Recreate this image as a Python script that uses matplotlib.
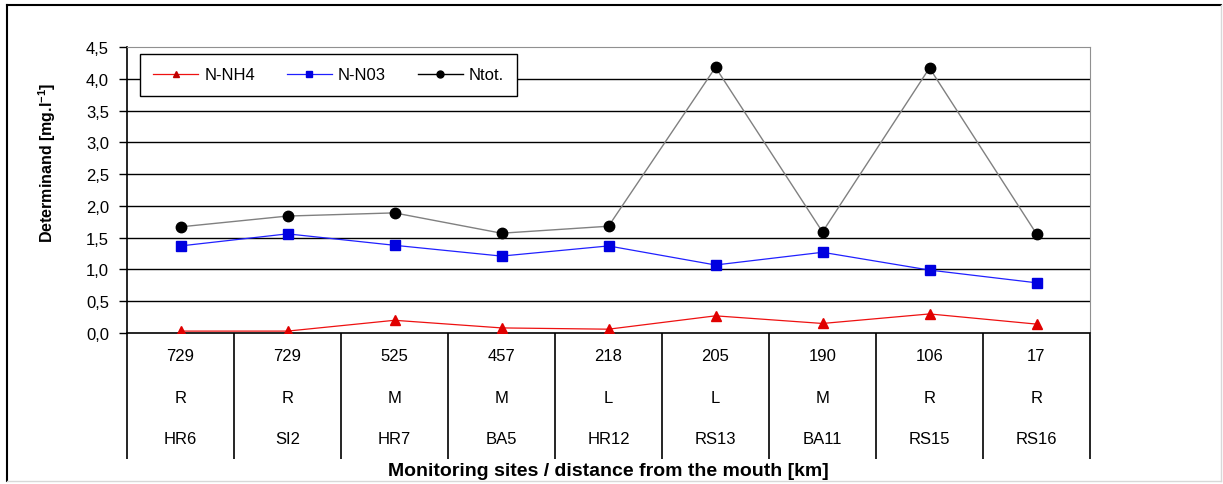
import matplotlib
matplotlib.use('Agg')
import matplotlib.pyplot as plt
from matplotlib import font_manager
from matplotlib.lines import Line2D

names = set(f.name for f in font_manager.fontManager.ttflist)
narrow = 'Liberation Sans Narrow' if 'Liberation Sans Narrow' in names else 'Liberation Sans'
plt.rcParams['font.family'] = ['Liberation Sans', 'DejaVu Sans']

# data
sites = ['HR6', 'SI2', 'HR7', 'BA5', 'HR12', 'RS13', 'BA11', 'RS15', 'RS16']
distance = ['729', '729', '525', '457', '218', '205', '190', '106', '17']
bank = ['R', 'R', 'M', 'M', 'L', 'L', 'M', 'R', 'R']
nh4 = [0.03, 0.03, 0.20, 0.08, 0.06, 0.27, 0.15, 0.30, 0.14]
no3 = [1.37, 1.56, 1.38, 1.21, 1.37, 1.07, 1.27, 0.99, 0.79]
ntot = [1.67, 1.84, 1.89, 1.57, 1.68, 4.18, 1.59, 4.17, 1.56]
yticks = [0.0, 0.5, 1.0, 1.5, 2.0, 2.5, 3.0, 3.5, 4.0, 4.5]

W, H = 1223, 485
fig = plt.figure(figsize=(W / 100, H / 100), dpi=100)
ax = fig.add_axes([127 / W, 1 - 334 / H, (1090 - 127) / W, (334 - 48) / H])

x = [i + 0.5 for i in range(len(sites))]
ax.plot(x, ntot, color='#808080', lw=1, marker='o', ms=7.5, mfc='black', mec='black', label='Ntot.', zorder=3)
ax.plot(x, no3, color='#2020ff', lw=0.9, marker='s', ms=7.5, mfc='#0000e0', mec='#0000e0', label='N-N03', zorder=3)
ax.plot(x, nh4, color='#ee1111', lw=0.9, marker='^', ms=7, mfc='#e00000', mec='#e00000', label='N-NH4', zorder=3)

ax.set_xlim(0, len(sites))
ax.set_ylim(0, 4.5)
ax.set_yticks(yticks)
ax.set_yticklabels([('%.1f' % v).replace('.', ',') for v in yticks], fontsize=12)
ax.tick_params(axis='y', direction='out', length=6, width=1, pad=7)
for v in yticks[1:-1]:
    ax.axhline(v, color='black', lw=1, zorder=1)

ax.set_xticks(range(len(sites) + 1))
ax.set_xticklabels([])
ax.tick_params(axis='x', direction='out', length=126 * 0.72, width=1.2, color='black')

ax.spines['top'].set_color('#909090')
ax.spines['right'].set_color('#909090')
ax.spines['left'].set_linewidth(1.2)
ax.spines['bottom'].set_linewidth(1.2)

tr = ax.get_xaxis_transform()
for i in range(len(sites)):
    ax.text(x[i], -0.08, distance[i], transform=tr, ha='center', va='center', fontsize=12)
    ax.text(x[i], -0.225, bank[i], transform=tr, ha='center', va='center', fontsize=12)
    ax.text(x[i], -0.37, sites[i], transform=tr, ha='center', va='center', fontsize=12)

ax.set_xlabel('Monitoring sites / distance from the mouth [km]', fontsize=14, fontweight='bold')
ax.xaxis.set_label_coords(0.5, -0.45)
ax.set_ylabel('Determinand [mg.l$^{\\mathregular{-1}}$]', fontsize=11.5, fontweight='bold',
              family=narrow)
ax.yaxis.set_label_coords(-0.072, 0.6)

handles = [Line2D([], [], color='#ee1111', lw=0.9, marker='^', ms=5, mfc='#c00000', mec='#c00000'),
           Line2D([], [], color='#2020ff', lw=0.9, marker='s', ms=5, mfc='#0000e0', mec='#0000e0'),
           Line2D([], [], color='black', lw=1, marker='o', ms=5, mfc='black', mec='black')]
leg = ax.legend(handles, ['N-NH4', 'N-N03', 'Ntot.'], ncol=3, loc='upper left',
                bbox_to_anchor=(0.0135, 0.825, 0.3915, 0.15), mode='expand', borderaxespad=0,
                fontsize=12, fancybox=False, framealpha=1, edgecolor='black',
                handlelength=2.7, handletextpad=0.35, columnspacing=1.4, borderpad=0.8)
leg.get_frame().set_linewidth(1)
leg.set_zorder(5)

# outer frame
fig.add_artist(Line2D([7 / W, 7 / W], [1 - 482 / H, 1 - 6 / H], color='black', lw=1.5))
fig.add_artist(Line2D([7 / W, 1221 / W], [1 - 6 / H, 1 - 6 / H], color='black', lw=1.5))
fig.add_artist(Line2D([1221 / W, 1221 / W], [1 - 482 / H, 1 - 6 / H], color='#d8d8d8', lw=1))
fig.add_artist(Line2D([7 / W, 1221 / W], [1 - 482 / H, 1 - 482 / H], color='#d8d8d8', lw=1))

fig.savefig('out.png', dpi=100)
